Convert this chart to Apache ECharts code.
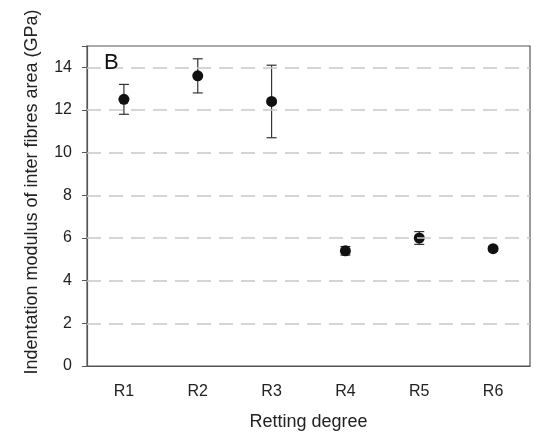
<!DOCTYPE html>
<html>
<head>
<meta charset="utf-8">
<script src="https://cdn.jsdelivr.net/npm/echarts@6/dist/echarts.min.js"></script>
<style>
 html, body { margin: 0; padding: 0; background: #fff; }
 #chart { width: 533px; height: 434px; }
</style>
</head>
<body>
<div id="chart"></div>
<script>
const categories = ['R1', 'R2', 'R3', 'R4', 'R5', 'R6']
const means = [12.5, 13.6, 12.4, 5.4, 6.0, 5.5]
const errors = [0.7, 0.8, 1.7, 0.2, 0.3, 0.1]
const yTicks = [0, 2, 4, 6, 8, 10, 12, 14]

const errorData = means.map((m, i) => [i, m - errors[i], m + errors[i]])
// dashed reference lines, not on the axis itself
const gridLines = yTicks.filter(v => v > 0).map(v => ({ yAxis: v }))

const chart = echarts.init(document.getElementById('chart'))
const font = 'Liberation Sans, Arial, sans-serif'

chart.setOption({
 animation: false,
 grid: {
  left: 87, right: 3, top: 46, bottom: 68,
  outerBoundsMode: 'none',
  show: true, borderColor: '#555', borderWidth: 1.2,
  backgroundColor: '#fff'
 },
 graphic: [{
  type: 'text', left: 104, top: 52, z: 100,
  style: { text: 'B', font: '22px ' + font, fill: '#111' }
 }],
 xAxis: {
  type: 'category',
  data: categories,
  name: 'Retting degree',
  nameLocation: 'middle',
  nameGap: 47,
  nameTextStyle: { fontFamily: font, fontSize: 18, color: '#222' },
  axisLine: { lineStyle: { color: '#555', width: 1.2 } },
  axisTick: { alignWithLabel: true, length: 4, lineStyle: { color: '#555' } },
  axisLabel: { fontFamily: font, fontSize: 16, color: '#222', margin: 18 }
 },
 yAxis: {
  type: 'value',
  min: 0, max: 15, interval: 2,
  name: 'Indentation modulus of inter fibres area (GPa)',
  nameLocation: 'middle',
  nameGap: 46,
  nameTextStyle: { fontFamily: font, fontSize: 18, color: '#222', padding: [0, 0, 0, 28] },
  axisLine: { show: true, lineStyle: { color: '#555', width: 1.2 } },
  axisTick: { show: true, length: 5, lineStyle: { color: '#555' } },
  axisLabel: {
   fontFamily: font, fontSize: 16, color: '#222', margin: 15,
   formatter: v => yTicks.includes(v) ? String(v) : ''
  },
  splitLine: { show: false }
 },
 series: [
  {
   type: 'custom',
   data: errorData,
   z: 3,
   renderItem: (params, api) => {
    const x = api.value(0)
    const lo = api.coord([x, api.value(1)])
    const hi = api.coord([x, api.value(2)])
    const w = 5
    const style = { stroke: '#333', lineWidth: 1.2 }
    return {
     type: 'group',
     children: [
      { type: 'line', shape: { x1: lo[0], y1: lo[1], x2: hi[0], y2: hi[1] }, style },
      { type: 'line', shape: { x1: lo[0] - w, y1: lo[1], x2: lo[0] + w, y2: lo[1] }, style },
      { type: 'line', shape: { x1: hi[0] - w, y1: hi[1], x2: hi[0] + w, y2: hi[1] }, style }
     ]
    }
   }
  },
  {
   type: 'scatter',
   data: means,
   symbol: 'circle',
   symbolSize: 11,
   z: 4,
   itemStyle: { color: '#111', opacity: 1 },
   markLine: {
    silent: true,
    symbol: 'none',
    label: { show: false },
    lineStyle: { color: '#c8c8c8', type: [14, 8], width: 1.5 },
    emphasis: { disabled: true },
    data: gridLines
   }
  }
 ]
})
</script>
</body>
</html>
